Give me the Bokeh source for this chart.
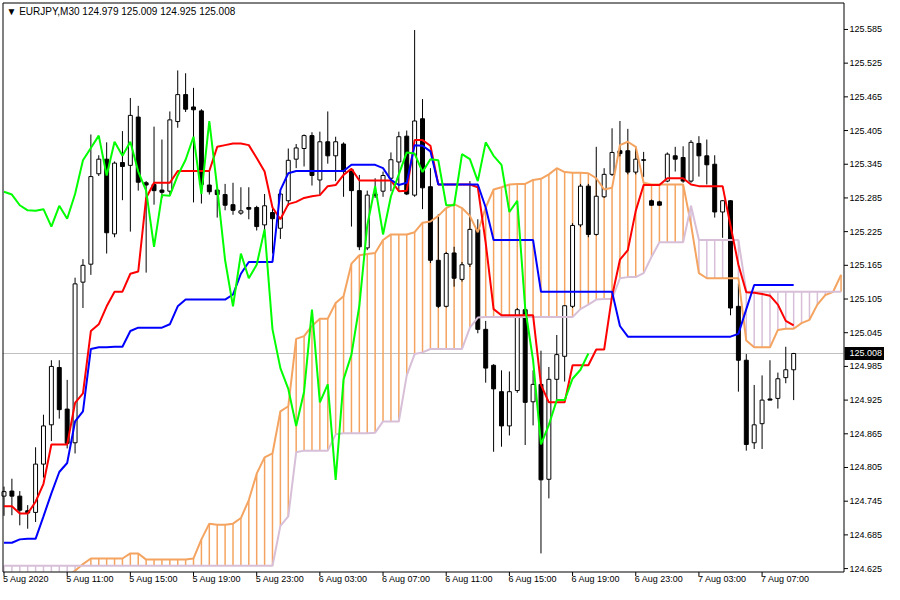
from bokeh.plotting import figure
from bokeh.models import Range1d
from bokeh.core.properties import value
from bokeh.embed import file_html
from bokeh.resources import INLINE

# ---------------- data (EURJPY M30, bar 0 = 5 Aug 2020 07:00) ----------------
open_ = [124.754, 124.763, 124.754, 124.728, 124.725, 124.811, 124.881, 124.983, 124.909, 124.849,
         125.135, 125.167, 125.328, 125.354, 125.221, 125.348, 125.343, 125.429, 125.312, 125.309,
         125.299, 125.297, 125.421, 125.469, 125.447, 125.440, 125.308, 125.299, 125.291, 125.273,
         125.258, 125.268, 125.268, 125.237, 125.259, 125.231, 125.280, 125.354, 125.373, 125.396,
         125.317, 125.385, 125.360, 125.381, 125.335, 125.298, 125.196, 125.292, 125.297, 125.320,
         125.349, 125.395, 125.290, 125.426, 125.305, 125.174, 125.092, 125.187, 125.140, 125.167,
         125.229, 125.051, 124.987, 124.940, 124.879, 124.942, 125.086, 124.922, 124.953, 124.784,
         124.962, 125.003, 125.092, 125.237, 125.306, 125.220, 125.287, 125.327, 125.369, 125.369,
         125.331, 125.353, 125.280, 125.278, 125.315, 125.360, 125.357, 125.315, 125.382, 125.360,
         125.345, 125.260, 125.280, 125.092, 124.996, 124.849, 124.883, 124.927, 124.928, 124.965,
         124.979]
high = [124.771, 124.785, 124.763, 124.738, 124.841, 124.899, 124.996, 124.996, 124.961, 125.143,
        125.176, 125.398, 125.361, 125.384, 125.350, 125.404, 125.463, 125.449, 125.315, 125.412,
        125.389, 125.439, 125.512, 125.507, 125.481, 125.443, 125.333, 125.306, 125.310, 125.312,
        125.304, 125.304, 125.271, 125.292, 125.266, 125.296, 125.373, 125.381, 125.398, 125.402,
        125.403, 125.439, 125.394, 125.384, 125.338, 125.326, 125.298, 125.320, 125.332, 125.366,
        125.403, 125.405, 125.584, 125.461, 125.338, 125.256, 125.189, 125.198, 125.171, 125.315,
        125.247, 125.066, 124.989, 124.978, 124.976, 125.089, 125.089, 124.978, 125.013, 124.984,
        125.041, 125.094, 125.240, 125.310, 125.310, 125.376, 125.338, 125.409, 125.422, 125.408,
        125.377, 125.367, 125.282, 125.280, 125.366, 125.376, 125.377, 125.388, 125.395, 125.389,
        125.361, 125.281, 125.281, 125.133, 125.007, 124.952, 124.969, 124.996, 124.974, 125.020,
        125.009]
low = [124.719, 124.720, 124.702, 124.696, 124.708, 124.787, 124.852, 124.892, 124.839, 124.830,
       125.089, 125.148, 125.324, 125.186, 125.215, 125.281, 125.225, 125.298, 125.152, 125.273,
       125.285, 125.291, 125.410, 125.438, 125.277, 125.275, 125.291, 125.250, 125.263, 125.255,
       125.255, 125.247, 125.227, 125.227, 125.186, 125.212, 125.271, 125.338, 125.341, 125.307,
       125.291, 125.346, 125.315, 125.287, 125.234, 125.192, 125.192, 125.285, 125.287, 125.297,
       125.298, 125.290, 125.287, 125.265, 125.169, 125.089, 125.090, 125.127, 125.136, 125.162,
       125.044, 124.956, 124.833, 124.842, 124.862, 124.938, 124.845, 124.880, 124.652, 124.750,
       124.925, 124.958, 125.089, 125.233, 125.215, 125.218, 125.285, 125.324, 125.359, 125.327,
       125.327, 125.322, 125.271, 125.271, 125.313, 125.332, 125.312, 125.312, 125.323, 125.309,
       125.250, 125.214, 125.076, 124.940, 124.835, 124.838, 124.838, 124.925, 124.910, 124.955,
       124.925]
close = [124.762, 124.754, 124.729, 124.724, 124.811, 124.879, 124.985, 124.908, 124.848, 125.132,
         125.165, 125.323, 125.354, 125.223, 125.347, 125.341, 125.432, 125.313, 125.308, 125.298,
         125.295, 125.424, 125.469, 125.443, 125.442, 125.309, 125.296, 125.291, 125.272, 125.263,
         125.262, 125.265, 125.234, 125.271, 125.248, 125.292, 125.352, 125.374, 125.396, 125.325,
         125.385, 125.360, 125.385, 125.332, 125.298, 125.198, 125.290, 125.289, 125.325, 125.353,
         125.394, 125.292, 125.422, 125.303, 125.174, 125.092, 125.186, 125.142, 125.166, 125.229,
         125.051, 124.982, 124.945, 124.879, 124.940, 125.086, 124.921, 124.953, 124.783, 124.962,
         125.006, 125.093, 125.236, 125.306, 125.220, 125.288, 125.327, 125.366, 125.364, 125.331,
         125.354, 125.352, 125.272, 125.272, 125.363, 125.354, 125.315, 125.384, 125.360, 125.344,
         125.260, 125.280, 125.089, 124.996, 124.846, 124.881, 124.925, 124.925, 124.963, 124.979,
         125.008]

tenkan = [124.736, 124.736, 124.723, 124.723, 124.744, 124.776, 124.846, 124.846, 124.846, 124.920,
          124.937, 125.048, 125.060, 125.092, 125.118, 125.118, 125.150, 125.154, 125.285, 125.312,
          125.312, 125.312, 125.333, 125.333, 125.333, 125.333, 125.333, 125.376, 125.379, 125.382,
          125.382, 125.379, 125.356, 125.332, 125.268, 125.247, 125.274, 125.278, 125.285, 125.288,
          125.290, 125.306, 125.308, 125.326, 125.337, 125.316, 125.316, 125.316, 125.316, 125.316,
          125.297, 125.298, 125.388, 125.388, 125.378, 125.309, 125.309, 125.309, 125.309, 125.309,
          125.304, 125.205, 125.087, 125.076, 125.076, 125.076, 125.076, 125.076, 124.952, 124.921,
          124.921, 124.921, 124.987, 124.987, 124.987, 125.015, 125.015, 125.110, 125.175, 125.192,
          125.262, 125.308, 125.308, 125.308, 125.320, 125.320, 125.320, 125.309, 125.306, 125.306,
          125.306, 125.306, 125.236, 125.166, 125.117, 125.116, 125.114, 125.111, 125.095, 125.066,
          125.058]
kijun = [124.671, 124.671, 124.677, 124.678, 124.678, 124.718, 124.759, 124.797, 124.813, 124.887,
         124.905, 125.016, 125.019, 125.019, 125.020, 125.020, 125.048, 125.054, 125.054, 125.054,
         125.054, 125.060, 125.092, 125.104, 125.104, 125.104, 125.104, 125.104, 125.104, 125.113,
         125.150, 125.171, 125.171, 125.171, 125.171, 125.299, 125.329, 125.333, 125.333, 125.333,
         125.333, 125.333, 125.333, 125.333, 125.344, 125.344, 125.344, 125.344, 125.338, 125.317,
         125.308, 125.312, 125.379, 125.378, 125.368, 125.309, 125.309, 125.309, 125.309, 125.309,
         125.309, 125.268, 125.210, 125.210, 125.210, 125.210, 125.210, 125.210, 125.118, 125.118,
         125.118, 125.118, 125.118, 125.118, 125.118, 125.118, 125.118, 125.118, 125.057, 125.038,
         125.038, 125.038, 125.038, 125.038, 125.038, 125.038, 125.038, 125.038, 125.038, 125.038,
         125.038, 125.038, 125.038, 125.043, 125.087, 125.130, 125.130, 125.130, 125.130, 125.130,
         125.130]
# Senkou spans, already shifted 26 bars forward (bars 0..106)
senkou_a = [124.612, 124.612, 124.612, 124.612, 124.612, 124.612, 124.612, 124.612, 124.612, 124.621,
            124.633, 124.643, 124.643, 124.643, 124.643, 124.643, 124.652, 124.652, 124.641, 124.641,
            124.641, 124.641, 124.641, 124.641, 124.643, 124.677, 124.705, 124.703, 124.703, 124.705,
            124.715, 124.747, 124.794, 124.823, 124.830, 124.905, 124.914, 125.034, 125.039, 125.057,
            125.070, 125.070, 125.098, 125.110, 125.168, 125.183, 125.185, 125.187, 125.210, 125.220,
            125.220, 125.220, 125.224, 125.241, 125.243, 125.253, 125.267, 125.274, 125.267, 125.253,
            125.224, 125.268, 125.300, 125.304, 125.309, 125.310, 125.310, 125.317, 125.319, 125.327,
            125.338, 125.331, 125.330, 125.330, 125.329, 125.320, 125.300, 125.303, 125.379, 125.385,
            125.376, 125.312, 125.309, 125.309, 125.309, 125.309, 125.309, 125.238, 125.151, 125.142,
            125.142, 125.142, 125.142, 125.142, 125.031, 125.019, 125.019, 125.019, 125.050, 125.052,
            125.052, 125.062, 125.068, 125.095, 125.112, 125.118, 125.148]
senkou_b = [124.630, 124.630, 124.630, 124.630, 124.630, 124.630, 124.630, 124.630, 124.630, 124.630,
            124.630, 124.630, 124.630, 124.630, 124.630, 124.630, 124.630, 124.630, 124.630, 124.630,
            124.630, 124.630, 124.630, 124.630, 124.630, 124.630, 124.630, 124.630, 124.630, 124.630,
            124.630, 124.630, 124.630, 124.630, 124.630, 124.701, 124.718, 124.832, 124.835, 124.835,
            124.835, 124.835, 124.864, 124.866, 124.866, 124.866, 124.866, 124.867, 124.887, 124.887,
            124.887, 124.969, 125.007, 125.010, 125.016, 125.016, 125.016, 125.016, 125.016, 125.054,
            125.072, 125.073, 125.073, 125.073, 125.073, 125.073, 125.073, 125.073, 125.073, 125.073,
            125.073, 125.073, 125.073, 125.087, 125.095, 125.104, 125.105, 125.105, 125.142, 125.144,
            125.144, 125.151, 125.180, 125.206, 125.206, 125.206, 125.206, 125.271, 125.210, 125.210,
            125.210, 125.210, 125.210, 125.210, 125.118, 125.118, 125.118, 125.118, 125.118, 125.118,
            125.118, 125.118, 125.118, 125.118, 125.118, 125.118, 125.118]

tick_bars = [0, 8, 16, 24, 32, 40, 48, 56, 64, 72, 80, 88, 96]
tick_labels = ["5 Aug 2020", "5 Aug 11:00", "5 Aug 15:00", "5 Aug 19:00", "5 Aug 23:00",
               "6 Aug 03:00", "6 Aug 07:00", "6 Aug 11:00", "6 Aug 15:00", "6 Aug 19:00",
               "6 Aug 23:00", "7 Aug 03:00", "7 Aug 07:00"]
y_ticks = [124.625, 124.685, 124.745, 124.805, 124.865, 124.925, 124.985, 125.045, 125.105,
           125.165, 125.225, 125.285, 125.345, 125.405, 125.465, 125.525, 125.585]
y_tick_labels = ["124.625", "124.685", "124.745", "124.805", "124.865", "124.925", "124.985",
                 "125.045", "125.105", "125.165", "125.225", "125.285", "125.345", "125.405",
                 "125.465", "125.525", "125.585"]
symbol_text = "\u25BC  EURJPY,M30  124.979 125.009 124.925 125.008"
last_price = 125.008
last_price_label = "125.008"
shift = 26

# ---------------- layout / styling ----------------
FONT = "Liberation Sans"
FS = "9px"
C_A = "#F4A460"
C_B = "#D8BFD8"
W, H = 884, 584
PX_L, PX_T, PX_R, PX_B = 2, 2, 843, 571          # chart area in canvas pixels
X0, XA = -0.19, 106.31                           # bar range shown in chart area
Y0, Y1 = 124.6198, 125.633                       # price range shown in chart area
KX = (PX_R - PX_L) / (XA - X0)
KY = (PX_B - PX_T) / (Y1 - Y0)


def dx(px):
    return px / KX


def dy(px):
    return px / KY


bars = list(range(len(close)))
fbars = list(range(len(senkou_a)))

p = figure(width=W, height=H, output_backend="svg", toolbar_location=None,
           x_range=Range1d(X0 - dx(PX_L), XA + dx(W - PX_R)),
           y_range=Range1d(Y0 - dy(H - PX_B), Y1 + dy(PX_T)),
           x_axis_location=None, y_axis_location=None,
           min_border=0, min_border_left=0, min_border_right=0,
           min_border_top=0, min_border_bottom=0)
p.background_fill_color = "white"
p.border_fill_color = "white"
p.outline_line_color = None
for g in p.grid:
    g.visible = False

# current price line
p.segment(x0=[X0], y0=[last_price], x1=[XA], y1=[last_price], line_color="#C0C0C0", line_width=1)

# cloud hatch
hatch_col = [C_A if a >= b else C_B for a, b in zip(senkou_a, senkou_b)]
p.segment(x0=fbars, y0=senkou_a, x1=fbars, y1=senkou_b, line_color=hatch_col, line_width=1.5)

# candles
body_top = [max(o, c) for o, c in zip(open_, close)]
body_bot = [min(o, c) for o, c in zip(open_, close)]
body_fill = ["white" if c >= o else "black" for o, c in zip(open_, close)]
p.segment(x0=bars, y0=low, x1=bars, y1=high, line_color="black", line_width=1)
p.vbar(x=bars, width=0.5, top=body_top, bottom=body_bot, fill_color=body_fill,
       line_color="black", line_width=1)

# ichimoku lines
p.line(fbars, senkou_a, line_color=C_A, line_width=2)
p.line(fbars, senkou_b, line_color=C_B, line_width=2)
p.line(bars, tenkan, line_color="#FF0000", line_width=2)
p.line(bars, kijun, line_color="#0000FF", line_width=2)
p.line(bars[:len(bars) - shift], close[shift:], line_color="#00FF00", line_width=2)

# white panels covering anything outside the chart area (right scale, bottom scale)
p.quad(left=[XA], right=[XA + dx(W)], bottom=[Y0 - dy(H)], top=[Y1 + dy(H)],
       fill_color="white", line_color=None)
p.quad(left=[X0 - dx(W)], right=[XA + dx(W)], bottom=[Y0 - dy(H)], top=[Y0],
       fill_color="white", line_color=None)

# chart frame: left, top, right (price scale) and bottom (time scale) lines
fx0 = X0 + dx(0.5)
fx1 = XA + dx(0.5)
fy0 = Y0 - dy(0.5)
fy1 = Y1 - dy(0.5)
p.segment(x0=[fx0, fx0, fx1, fx0], y0=[fy0, fy1, fy0, fy0],
          x1=[fx0, fx1, fx1, fx1], y1=[fy1, fy1, fy1, fy0],
          line_color="black", line_width=1)

# price scale ticks + labels
p.segment(x0=[fx1] * len(y_ticks), y0=y_ticks, x1=[fx1 + dx(4)] * len(y_ticks), y1=y_ticks,
          line_color="black", line_width=1)
p.text(x=[XA + dx(6)] * len(y_ticks), y=y_ticks, text=y_tick_labels,
       text_font=value(FONT), text_font_size=value(FS), text_color="black",
       text_baseline="middle", text_align="left")

# last price tag
p.quad(left=[XA + dx(1)], right=[XA + dx(W - PX_R)], top=[last_price + dy(6.5)],
       bottom=[last_price - dy(6.5)], fill_color="black", line_color=None)
p.text(x=[XA + dx(6)], y=[last_price], text=[last_price_label],
       text_font=value(FONT), text_font_size=value(FS), text_color="white",
       text_baseline="middle", text_align="left")

# time scale ticks + labels
p.segment(x0=tick_bars, y0=[fy0] * len(tick_bars), x1=tick_bars,
          y1=[fy0 - dy(4)] * len(tick_bars), line_color="black", line_width=1)
p.text(x=[b - dx(1) for b in tick_bars], y=[Y0 - dy(7.5)] * len(tick_bars), text=tick_labels,
       text_font=value(FONT), text_font_size=value(FS), text_color="black",
       text_baseline="middle", text_align="left")

# symbol / OHLC caption
p.text(x=[X0 + dx(4)], y=[Y1 - dy(9)], text=[symbol_text],
       text_font=value(FONT), text_font_size=value("10px"), text_color="black",
       text_baseline="middle", text_align="left")

open("out.html", "w").write(file_html(p, INLINE))
